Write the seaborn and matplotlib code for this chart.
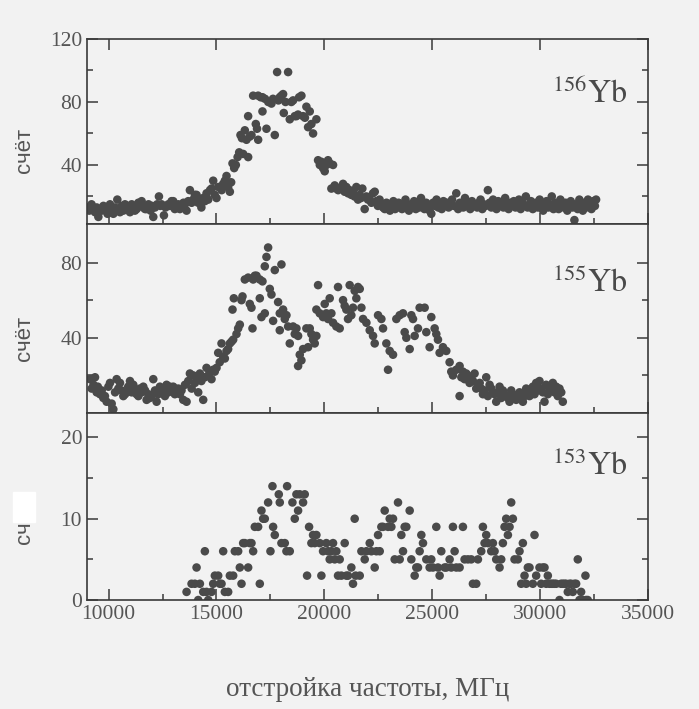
import numpy as np
import matplotlib
matplotlib.use("Agg")
import matplotlib.pyplot as plt
from matplotlib.patches import Rectangle
import seaborn as sns

# ---- 156Yb (top panel) ----
top_x = [9020, 9100, 9210, 9300, 9370, 9450, 9525, 9600, 9680, 9760,
         9880, 9950, 10065, 10140, 10220, 10300, 10404, 10480, 10528, 10610,
         10682, 10760, 10836, 10910, 10991, 11070, 11145, 11220, 11299, 11380,
         11460, 11531, 11608, 11690, 11762, 11850, 11947, 12010, 12071, 12150,
         12250, 12333, 12400, 12456, 12564, 12640, 12765, 12850, 12920, 12996,
         13070, 13150, 13230, 13305, 13400, 13470, 13536, 13614, 13690, 13768,
         13850, 13922, 14000, 14077, 14150, 14231, 14300, 14380, 14462, 14540,
         14617, 14700, 14771, 14848, 14920, 15002, 15080, 15157, 15240, 15311,
         15390, 15465, 15540, 15620, 15680, 15743, 15820, 15897, 15980, 16052,
         16113, 16180, 16237, 16314, 16390, 16468, 16468, 16540, 16622, 16700,
         16823, 16880, 16931, 16931, 17050, 17132, 17132, 17250, 17317, 17400,
         17548, 17620, 17703, 17811, 17870, 17934, 18010, 18088, 18119, 18200,
         18320, 18397, 18470, 18552, 18630, 18706, 18780, 18829, 18937, 19014,
         19100, 19168, 19246, 19323, 19400, 19477, 19631, 19709, 19790, 19863,
         19940, 20017, 20100, 20171, 20250, 20326, 20403, 20480, 20557, 20640,
         20711, 20790, 20866, 20940, 21020, 21100, 21174, 21250, 21328, 21400,
         21483, 21560, 21637, 21700, 21761, 21869, 21946, 22020, 22100, 22180,
         22254, 22335, 22409, 22480, 22560, 22640, 22720, 22800, 22880, 22960,
         23040, 23120, 23200, 23280, 23360, 23440, 23520, 23600, 23680, 23760,
         23840, 23920, 24000, 24080, 24160, 24240, 24320, 24400, 24480, 24560,
         24640, 24720, 24800, 24880, 24957, 25040, 25120, 25200, 25280, 25360,
         25440, 25520, 25600, 25680, 25760, 25840, 25920, 26000, 26115, 26200,
         26280, 26360, 26440, 26520, 26600, 26680, 26760, 26840, 26920, 27000,
         27080, 27160, 27240, 27320, 27400, 27480, 27580, 27660, 27740, 27820,
         27900, 27980, 28060, 28140, 28220, 28300, 28380, 28460, 28540, 28620,
         28700, 28780, 28860, 28940, 29020, 29100, 29180, 29260, 29340, 29420,
         29500, 29580, 29660, 29740, 29820, 29900, 29980, 30060, 30140, 30220,
         30300, 30380, 30460, 30540, 30620, 30700, 30780, 30860, 30940, 31020,
         31100, 31180, 31260, 31340, 31420, 31500, 31590, 31660, 31740, 31820,
         31900, 31980, 32060, 32140, 32220, 32300, 32380, 32460, 32540, 32595]
top_y = [13, 11, 15, 12, 10, 13, 7, 12, 11, 14,
         12, 9, 15, 12, 9, 13, 18, 11, 10, 14,
         11, 15, 14, 12, 10, 15, 13, 11, 12, 16,
         14, 17, 13, 12, 12, 15, 11, 14, 7, 13,
         15, 20, 14, 15, 8, 13, 15, 14, 17, 17,
         12, 13, 15, 12, 14, 16, 15, 11, 17, 24,
         16, 18, 21, 21, 16, 17, 13, 19, 17, 22,
         18, 24, 25, 30, 21, 19, 26, 26, 24, 28,
         30, 33, 26, 23, 29, 41, 38, 40, 45, 48,
         59, 57, 47, 62, 56, 71, 45, 58, 59, 84,
         66, 63, 84, 56, 83, 74, 83, 82, 63, 80,
         79, 82, 59, 99, 81, 83, 84, 85, 73, 80,
         99, 69, 80, 81, 71, 71, 72, 83, 84, 71,
         70, 77, 64, 74, 66, 60, 69, 43, 40, 42,
         38, 36, 40, 43, 41, 25, 40, 27, 25, 24,
         25, 26, 28, 23, 26, 22, 24, 21, 23, 20,
         26, 18, 21, 19, 25, 12, 20, 18, 18, 16,
         22, 23, 17, 14, 18, 15, 13, 12, 16, 14,
         11, 15, 17, 12, 13, 16, 14, 12, 15, 18,
         13, 11, 15, 14, 17, 12, 15, 13, 19, 14,
         12, 16, 13, 11, 9, 16, 14, 18, 13, 15,
         12, 17, 14, 16, 13, 15, 18, 14, 22, 12,
         16, 15, 13, 19, 14, 16, 12, 17, 14, 15,
         13, 16, 18, 12, 15, 14, 24, 16, 13, 18,
         15, 12, 17, 14, 16, 13, 19, 15, 12, 16,
         14, 17, 13, 15, 18, 12, 16, 14, 20, 13,
         15, 17, 12, 14, 16, 13, 18, 15, 11, 14,
         17, 13, 15, 20, 12, 16, 14, 12, 18, 15,
         13, 16, 11, 14, 17, 13, 5, 15, 12, 18,
         14, 11, 16, 13, 18, 15, 12, 17, 14, 18]

# ---- 155Yb (middle panel) ----
mid_x = [9139, 9216, 9300, 9370, 9448, 9500, 9602, 9680, 9756, 9830,
         9910, 9990, 10065, 10142, 10219, 10300, 10373, 10450, 10528, 10600,
         10682, 10760, 10836, 10910, 10991, 11070, 11145, 11220, 11299, 11380,
         11453, 11530, 11608, 11690, 11762, 11840, 11916, 12000, 12071, 12150,
         12225, 12300, 12379, 12450, 12534, 12610, 12688, 12770, 12842, 12920,
         12996, 13070, 13150, 13230, 13305, 13380, 13459, 13540, 13614, 13690,
         13768, 13850, 13922, 14000, 14077, 14154, 14231, 14300, 14385, 14460,
         14539, 14620, 14694, 14770, 14848, 14920, 15002, 15080, 15150, 15234,
         15310, 15388, 15465, 15540, 15620, 15700, 15743, 15774, 15805, 15928,
         16005, 16082, 16160, 16206, 16314, 16468, 16545, 16622, 16669, 16700,
         16777, 16854, 17008, 17008, 17085, 17132, 17240, 17240, 17317, 17394,
         17471, 17548, 17625, 17703, 17857, 17934, 17934, 18011, 18088, 18166,
         18243, 18320, 18397, 18552, 18629, 18706, 18783, 18783, 18860, 18937,
         19014, 19168, 19246, 19323, 19400, 19477, 19554, 19631, 19631, 19709,
         19786, 19940, 20017, 20094, 20171, 20248, 20326, 20403, 20557, 20634,
         20711, 20866, 20943, 21020, 21097, 21174, 21251, 21328, 21406, 21483,
         21560, 21640, 21717, 21794, 21949, 22103, 22257, 22334, 22489, 22643,
         22720, 22874, 22952, 23029, 23183, 23337, 23492, 23646, 23723, 23800,
         23955, 24032, 24109, 24186, 24340, 24417, 24649, 24726, 24880, 24957,
         25112, 25189, 25266, 25343, 25498, 25652, 25806, 25883, 25960, 26115,
         26269, 26269, 26350, 26423, 26500, 26578, 26650, 26732, 26809, 26890,
         26963, 27040, 27118, 27200, 27272, 27350, 27430, 27503, 27580, 27658,
         27740, 27812, 27890, 27966, 28040, 28121, 28200, 28275, 28350, 28429,
         28510, 28584, 28660, 28738, 28810, 28892, 28970, 29046, 29120, 29201,
         29280, 29355, 29430, 29509, 29590, 29664, 29740, 29818, 29900, 29972,
         30050, 30127, 30204, 30281, 30360, 30435, 30510, 30589, 30670, 30744,
         30821, 30898, 30980, 31052]
mid_y = [18, 13, 15, 19, 11, 14, 10, 12, 8, 9,
         6, 14, 16, 5, 2, 11, 18, 13, 16, 12,
         9, 10, 11, 14, 17, 11, 15, 12, 10, 9,
         13, 11, 14, 12, 7, 10, 8, 9, 18, 12,
         6, 10, 14, 11, 13, 9, 15, 11, 14, 12,
         14, 10, 12, 13, 10, 12, 7, 15, 6, 17,
         21, 13, 20, 16, 18, 11, 21, 17, 7, 19,
         24, 20, 22, 18, 23, 22, 24, 32, 27, 37,
         30, 29, 33, 34, 37, 38, 55, 39, 61, 42,
         45, 47, 60, 62, 71, 72, 58, 56, 45, 71,
         73, 73, 71, 61, 51, 70, 78, 53, 83, 88,
         66, 63, 49, 76, 59, 53, 44, 79, 55, 50,
         52, 46, 37, 46, 42, 45, 41, 25, 31, 28,
         34, 45, 35, 45, 42, 39, 37, 41, 55, 68,
         53, 51, 58, 53, 50, 61, 53, 48, 46, 67,
         45, 60, 57, 55, 50, 68, 52, 56, 65, 61,
         67, 66, 56, 50, 48, 44, 41, 37, 52, 50,
         45, 37, 23, 33, 31, 50, 52, 53, 43, 40,
         34, 52, 50, 41, 45, 56, 56, 43, 35, 51,
         45, 42, 39, 32, 35, 33, 27, 22, 20, 23,
         25, 9, 19, 22, 18, 21, 20, 16, 19, 17,
         21, 13, 14, 16, 13, 10, 12, 19, 9, 15,
         13, 11, 10, 6, 11, 14, 8, 12, 10, 9,
         8, 6, 12, 10, 9, 7, 8, 11, 10, 6,
         9, 13, 11, 9, 12, 14, 10, 16, 12, 17,
         13, 11, 6, 15, 10, 12, 13, 16, 11, 14,
         9, 13, 11, 6]

# ---- 153Yb (bottom panel) ----
bot_x = [13614, 13845, 13999, 14077, 14154, 14231, 14385, 14462, 14539, 14617,
         14771, 14848, 14925, 15080, 15157, 15234, 15311, 15388, 15542, 15620,
         15774, 15851, 16005, 16082, 16160, 16237, 16314, 16468, 16545, 16622,
         16700, 16777, 16931, 17008, 17085, 17163, 17240, 17394, 17502, 17595,
         17625, 17703, 17888, 17934, 18011, 18166, 18243, 18274, 18397, 18520,
         18629, 18706, 18783, 18860, 19014, 19091, 19199, 19292, 19400, 19477,
         19554, 19631, 19786, 19863, 19940, 20094, 20171, 20248, 20326, 20403,
         20480, 20557, 20634, 20711, 20789, 20943, 21020, 21097, 21251, 21328,
         21406, 21452, 21640, 21717, 21871, 21949, 22103, 22180, 22334, 22412,
         22489, 22566, 22643, 22720, 22797, 22952, 23029, 23106, 23183, 23260,
         23414, 23492, 23569, 23646, 23723, 23800, 23955, 24032, 24186, 24263,
         24340, 24417, 24495, 24572, 24726, 24880, 24957, 25035, 25189, 25266,
         25343, 25420, 25575, 25652, 25806, 25883, 25960, 26038, 26115, 26269,
         26423, 26500, 26655, 26809, 26886, 27041, 27118, 27272, 27349, 27426,
         27503, 27581, 27735, 27812, 27889, 27966, 28121, 28198, 28275, 28352,
         28429, 28507, 28584, 28661, 28738, 28815, 28969, 29046, 29124, 29201,
         29278, 29355, 29432, 29509, 29664, 29741, 29818, 29972, 30049, 30127,
         30204, 30281, 30358, 30435, 30510, 30589, 30660, 30744, 30898, 30970,
         31052, 31130, 31207, 31284, 31361, 31440, 31515, 31592, 31670, 31747,
         31824, 31901, 31978, 32102, 32132, 32209]
bot_y = [1, 2, 2, 4, 0, 2, 1, 6, 1, 0,
         1, 2, 3, 3, 2, 2, 6, 1, 1, 3,
         3, 6, 6, 4, 2, 7, 7, 4, 7, 7,
         6, 9, 9, 2, 11, 10, 10, 12, 6, 14,
         9, 8, 13, 12, 7, 7, 6, 14, 6, 12,
         10, 13, 11, 13, 12, 13, 3, 9, 7, 8,
         7, 8, 7, 3, 6, 7, 6, 5, 6, 7,
         5, 6, 3, 5, 3, 7, 3, 3, 4, 2,
         10, 3, 3, 6, 5, 6, 7, 6, 4, 6,
         8, 6, 9, 9, 11, 9, 10, 9, 10, 5,
         12, 5, 8, 6, 9, 9, 11, 5, 3, 4,
         4, 6, 8, 7, 5, 4, 5, 4, 9, 4,
         3, 6, 4, 4, 5, 4, 9, 6, 4, 4,
         9, 5, 5, 5, 2, 2, 5, 6, 9, 7,
         8, 7, 6, 7, 6, 5, 4, 5, 7, 9,
         10, 8, 9, 12, 10, 5, 5, 6, 2, 7,
         3, 2, 4, 4, 2, 8, 3, 4, 2, 4,
         4, 2, 3, 2, 2, 2, 2, 2, 0, 2,
         2, 2, 2, 1, 2, 2, 1, 2, 2, 5,
         0, 1, 0, 3, 0, 0]

isotopes = ["156", "155", "153"]
y_limits = [(2.5, 120), (0, 100.5), (0, 23)]
y_major = [[40, 80, 120], [40, 80], [0, 10, 20]]
y_minor = [[20, 60, 100], [20, 60], [5, 15]]
x_major = [10000, 15000, 20000, 25000, 30000, 35000]
x_minor = [12500, 17500, 22500, 27500, 32500]

sns.set_style("ticks")
plt.rcParams['font.family'] = ['Liberation Serif', 'DejaVu Serif']
plt.rcParams['mathtext.fontset'] = 'stix'

paper = '#f2f2f2'
ink = '#4a4a4a'
frame = '#3a3a3a'

fig = plt.figure(figsize=(6.99, 7.09), dpi=100, facecolor=paper)
gs = fig.add_gridspec(3, 1, left=0.1245, right=0.927, top=0.945, bottom=0.1537,
                      hspace=0, height_ratios=[185, 189, 187])
axes = [fig.add_subplot(gs[i]) for i in range(3)]

data = [(top_x, top_y), (mid_x, mid_y), (bot_x, bot_y)]
for i, ax in enumerate(axes):
    xs, ys = data[i]
    ax.set_facecolor(paper)
    sns.scatterplot(x=xs, y=ys, ax=ax, s=38, color=ink, edgecolor='none',
                    linewidth=0, legend=False)
    ax.set_xlim(9000, 35000)
    ax.set_ylim(*y_limits[i])
    ax.set_xticks(x_major)
    ax.set_xticks(x_minor, minor=True)
    ax.set_yticks(y_major[i])
    ax.set_yticks(y_minor[i], minor=True)
    ax.tick_params(which='both', direction='in', colors=frame, labelcolor='#555555',
                   labelsize=15.5, width=1.1, right=True)
    ax.tick_params(which='major', length=8)
    ax.tick_params(which='minor', length=4)
    if i == 0:
        ax.tick_params(axis='x', which='major', top=True)
    if i < 2:
        ax.tick_params(axis='x', labelbottom=False)
    for sp in ax.spines.values():
        sp.set_color(frame)
        sp.set_linewidth(1.2)
    ax.text(0.964, [0.654, 0.64, 0.668][i], r'$^{%s}\mathrm{Yb}$' % isotopes[i],
            transform=ax.transAxes, ha='right', va='baseline', fontsize=23,
            color='#4a4a4a')

for ax, lab, yy in zip(axes, ["счёт", "счёт", "сч"], [0.40, 0.397, 0.36]):
    ax.set_ylabel(lab, fontfamily=['Liberation Sans', 'DejaVu Sans'], fontsize=16,
                  color='#555555')
    ax.yaxis.set_label_coords(-0.092, yy)

axes[2].set_xlabel("отстройка частоты, МГц", fontsize=19.5, color='#555555', labelpad=38)

# white patch on the scan over the last label
fig.add_artist(Rectangle((13 / 699, 1 - 522 / 709), 22 / 699, 30 / 709,
                         transform=fig.transFigure, color='white', zorder=5))

fig.savefig("out.png", dpi=100, facecolor=paper)
